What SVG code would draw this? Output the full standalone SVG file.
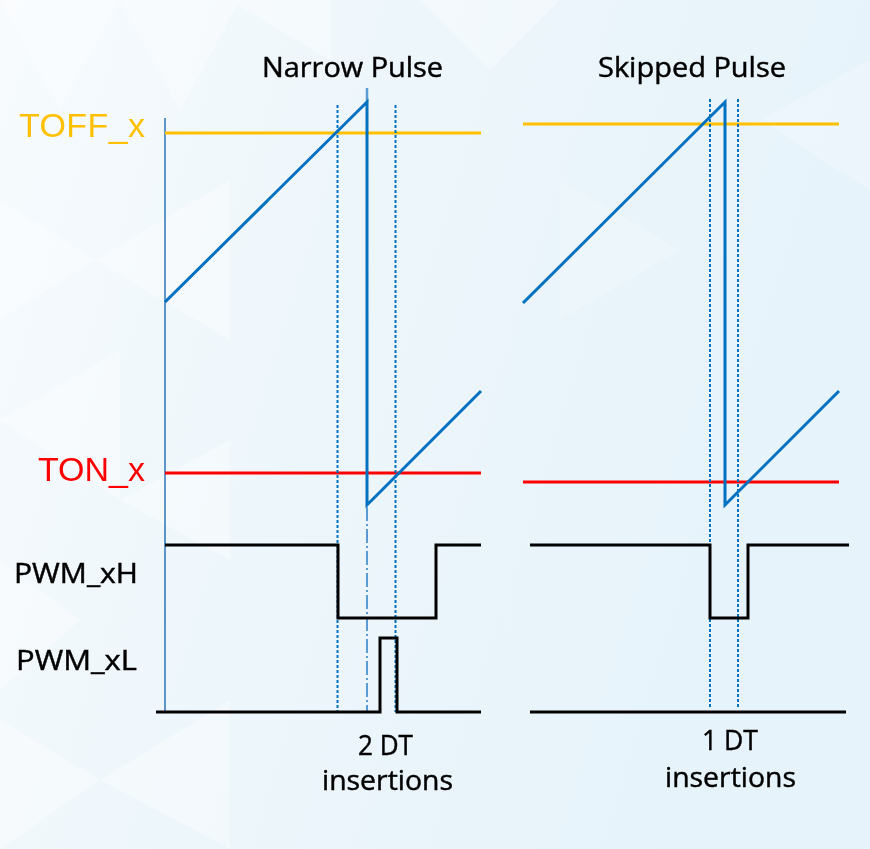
<svg xmlns="http://www.w3.org/2000/svg" width="870" height="849" viewBox="0 0 870 849">
<defs>
<linearGradient id="bg" x1="0" y1="0" x2="1" y2="0.3">
<stop offset="0" stop-color="#f7fbfe"/>
<stop offset="0.45" stop-color="#edf6fb"/>
<stop offset="1" stop-color="#e6f3fa"/>
</linearGradient>
<style>
.calib{font-family:"Open Sans","Liberation Sans",sans-serif;fill:#000;stroke:#000;stroke-width:0.45;}
.arial{font-family:"Liberation Sans",Arial,sans-serif;}
.ramp{fill:none;stroke:#0070c0;stroke-width:3;stroke-linejoin:miter;}
.dot{fill:none;stroke:#0070c0;stroke-width:2;stroke-dasharray:3 2;}
.sig{fill:none;stroke:#000;stroke-width:3;}
.tri{fill:#ffffff;}
</style>
</defs>
<rect width="870" height="849" fill="url(#bg)"/>
<g id="background" opacity="0.35">
<polygon class="tri" points="0,0 120,0 60,110"/>
<polygon class="tri" points="120,0 240,0 180,110 "/>
<polygon class="tri" points="0,200 95,260 0,320"/>
<polygon class="tri" points="95,260 230,180 230,340"/>
<polygon class="tri" points="0,420 120,350 120,500"/>
<polygon class="tri" points="120,500 230,440 230,560"/>
<polygon class="tri" points="0,560 80,620 0,690"/>
<polygon class="tri" points="230,0 330,0 330,60"/>
<polygon class="tri" points="420,0 560,0 490,70"/>
<polygon class="tri" points="0,720 100,780 0,849"/>
<polygon class="tri" points="100,780 230,700 230,849"/>
<polygon class="tri" points="760,120 870,60 870,190" opacity="0.6"/>
<polygon class="tri" points="560,180 680,250 560,320" opacity="0.5"/>
</g>
<g id="titles">
<text class="calib" x="262" y="77" font-size="27" textLength="181" lengthAdjust="spacingAndGlyphs">Narrow Pulse</text>
<text class="calib" x="598" y="77" font-size="27" textLength="188" lengthAdjust="spacingAndGlyphs">Skipped Pulse</text>
</g>
<g id="labels">
<text class="arial" x="145" y="137" font-size="34" fill="#ffc000" text-anchor="end" textLength="126" lengthAdjust="spacing">TOFF_x</text>
<text class="arial" x="145" y="481" font-size="34" fill="#ff0000" text-anchor="end">TON_x</text>
<text class="calib" x="14" y="583" font-size="27" textLength="124" lengthAdjust="spacingAndGlyphs">PWM_xH</text>
<text class="calib" x="16" y="670" font-size="28" textLength="121" lengthAdjust="spacingAndGlyphs">PWM_xL</text>
<text class="calib" x="358" y="755" font-size="28" textLength="55" lengthAdjust="spacingAndGlyphs">2 DT</text>
<text class="calib" x="322" y="790" font-size="28" textLength="131" lengthAdjust="spacingAndGlyphs">insertions</text>
<text class="calib" x="702" y="750" font-size="28" textLength="56" lengthAdjust="spacingAndGlyphs">1 DT</text>
<text class="calib" x="665" y="787" font-size="28" textLength="131" lengthAdjust="spacingAndGlyphs">insertions</text>
</g>
<g id="connectors">
<line x1="165" y1="118" x2="165" y2="712" stroke="#2e75b6" stroke-width="1.5"/>
<line x1="165" y1="133" x2="481" y2="133" stroke="#ffc000" stroke-width="3"/>
<line x1="523" y1="124" x2="839" y2="124" stroke="#ffc000" stroke-width="3"/>
<line x1="165" y1="473" x2="481" y2="473" stroke="#ff0000" stroke-width="3"/>
<line x1="523" y1="482" x2="839" y2="482" stroke="#ff0000" stroke-width="3"/>
<line x1="367" y1="88" x2="367" y2="103" stroke="#5b9bd5" stroke-width="2.5"/>
<polyline class="ramp" points="165,302 367,102 367,505 481,391"/>
<polyline class="ramp" points="523,303 725,102 725,505 839,391"/>
<line class="dot" x1="337.5" y1="105" x2="337.5" y2="712"/>
<line class="dot" x1="395.5" y1="105" x2="395.5" y2="712"/>
<line class="dot" x1="710" y1="99" x2="710" y2="707"/>
<line class="dot" x1="738" y1="99" x2="738" y2="707"/>
<line x1="367" y1="507" x2="367" y2="712" stroke="#5b9bd5" stroke-width="2" stroke-dasharray="14 3 2 3"/>
<polyline class="sig" points="165,545 338,545 338,618 436,618 436,545 481,545"/>
<polyline class="sig" points="156,712 380,712 380,638 397,638 397,712 481,712"/>
<polyline class="sig" points="530,545 710,545 710,618 748,618 748,545 849,545"/>
<line class="sig" x1="530" y1="712" x2="846" y2="712"/>
</g>
</svg>
